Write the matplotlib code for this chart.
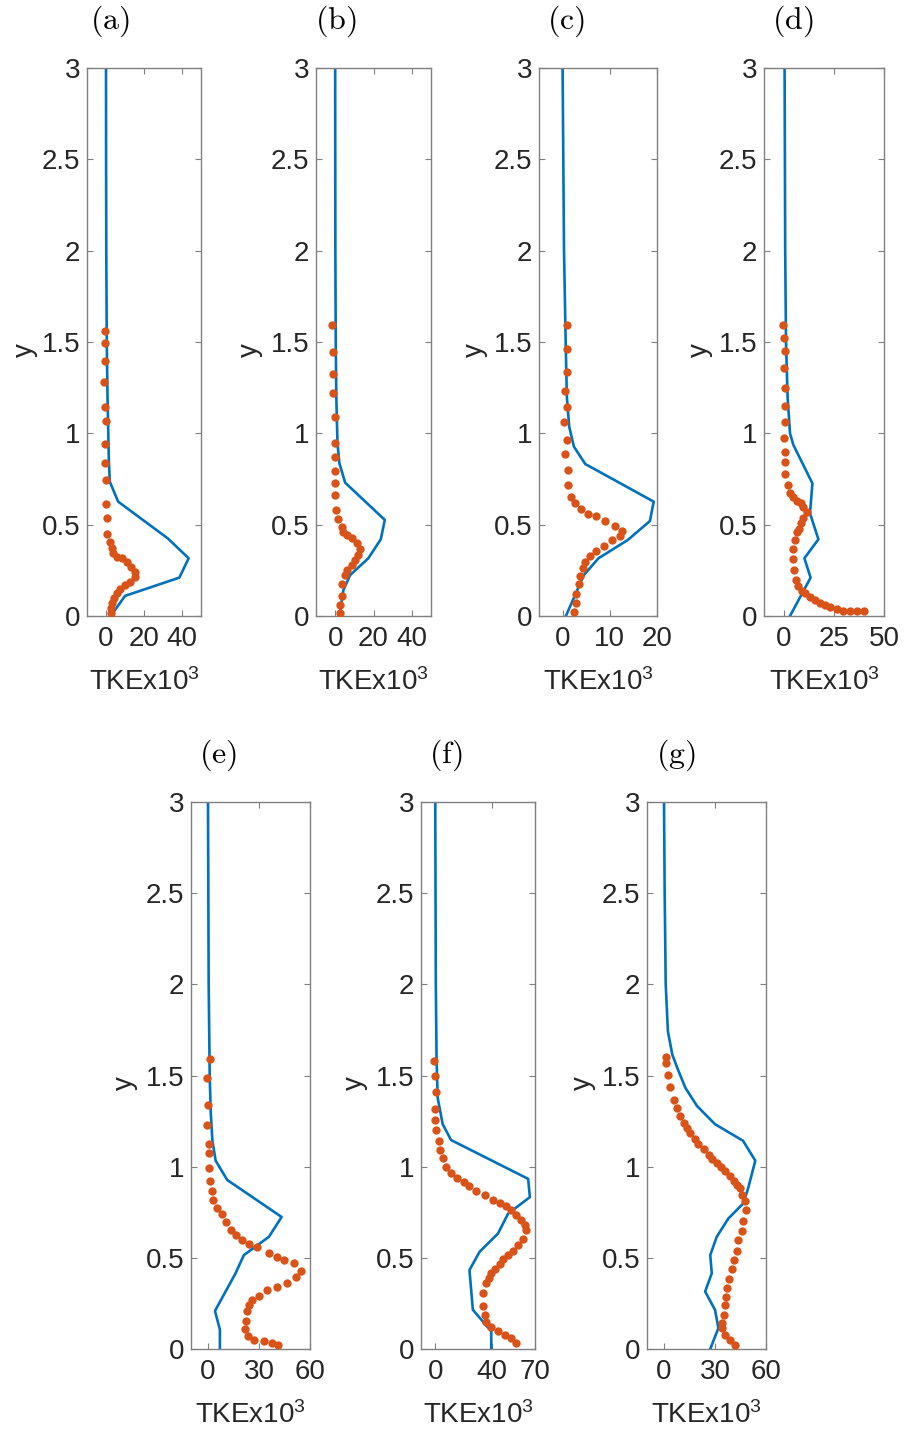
import matplotlib
matplotlib.use("Agg")
import matplotlib.pyplot as plt

plt.rcParams['font.family'] = ['Liberation Sans', 'DejaVu Sans']
plt.rcParams['mathtext.default'] = 'regular'

BLUE = '#0072BD'
ORANGE = '#D95319'

# ---- model profiles (solid lines): height y and TKE x 10^3 ----
a_line_y = [0.0, 0.11, 0.21, 0.316, 0.425, 0.626, 0.735, 0.85, 1.0, 1.2, 1.5, 2.0, 2.5, 3.0]
a_line_tke = [2.5, 10, 38.6, 43.5, 32.5, 6.4, 2.0, 1.5, 1.2, 0.8, 0.4, 0.15, 0.05, 0.0]

b_line_y = [0.0, 0.142, 0.224, 0.316, 0.42, 0.526, 0.73, 0.836, 0.945, 1.2, 1.5, 2.0, 3.0]
b_line_tke = [2.2, 4.3, 7.8, 17.3, 23.8, 25.9, 5.2, 2.2, 1.2, 0.6, 0.3, 0.1, 0.0]

c_line_y = [0.0, 0.124, 0.224, 0.316, 0.416, 0.52, 0.626, 0.832, 0.927, 1.036, 1.2, 1.5, 2.0, 3.0]
c_line_tke = [0.7, 2.8, 4.5, 7.6, 13.8, 18.5, 19.3, 4.8, 2.4, 1.4, 0.9, 0.65, 0.3, 0.0]

d_line_y = [0.0, 0.21, 0.316, 0.42, 0.562, 0.726, 0.936, 1.0, 1.2, 1.5, 2.0, 3.0]
d_line_tke = [3.0, 13.3, 10.2, 17.2, 13.0, 14.2, 4.7, 3.0, 1.8, 1.0, 0.6, 0.3]

e_line_y = [0.0, 0.106, 0.209, 0.415, 0.515, 0.615, 0.724, 0.927, 1.033, 1.142, 1.3, 1.5, 2.0, 3.0]
e_line_tke = [7.0, 7.0, 4.1, 16.2, 21.1, 35.8, 43.3, 11.3, 4.5, 2.6, 1.6, 1.0, 0.4, 0.0]

f_line_y = [0.0, 0.097, 0.215, 0.433, 0.533, 0.633, 0.742, 0.833, 0.933, 1.146, 1.233, 1.378, 1.6, 2.0, 3.0]
f_line_tke = [39.3, 39.3, 26.4, 24.0, 31.1, 44.0, 51.1, 66.4, 65.2, 11.1, 5.2, 1.7, 0.9, 0.4, 0.0]

g_line_y = [0.0, 0.115, 0.215, 0.315, 0.415, 0.515, 0.615, 0.715, 0.797, 0.878, 1.033, 1.142,
            1.233, 1.333, 1.432, 1.542, 1.614, 1.742, 2.0, 2.5, 3.0]
g_line_tke = [27.2, 32.0, 30.0, 24.2, 28.1, 27.2, 31.0, 37.8, 46.5, 49.4, 53.7, 46.5,
              30.0, 19.4, 12.6, 7.8, 4.9, 2.3, 1.0, 0.4, 0.0]

# ---- measured profiles (dots) ----
a_dots_y = [1.562, 1.493, 1.398, 1.281, 1.146, 1.066, 0.942, 0.836, 0.745, 0.613, 0.536, 0.447,
            0.407, 0.371, 0.343, 0.325, 0.316, 0.297, 0.270, 0.243, 0.215, 0.188, 0.170, 0.146,
            0.124, 0.097, 0.069, 0.042, 0.015]
a_dots_tke = [-0.5, -0.5, -0.5, -1.0, -0.7, 0.0, -0.5, -0.7, 0.0, 0.0, 0.7, 0.7,
              2.1, 3.0, 3.8, 5.6, 8.2, 10.8, 13.4, 15.1, 15.1, 12.5, 9.9, 7.3,
              5.6, 4.3, 3.3, 2.4, 2.6]

b_dots_y = [1.593, 1.447, 1.325, 1.223, 1.091, 0.949, 0.869, 0.796, 0.726, 0.661, 0.580, 0.529,
            0.489, 0.462, 0.443, 0.425, 0.398, 0.365, 0.334, 0.307, 0.279, 0.252, 0.224, 0.173,
            0.111, 0.060, 0.015]
b_dots_tke = [-1.4, -0.9, -0.9, -0.9, -0.3, -0.3, -0.3, 0.0, 0.0, 0.0, 0.5, 1.7,
              3.5, 4.3, 6.0, 8.6, 11.2, 12.9, 12.1, 10.4, 8.6, 6.0, 5.2, 3.8,
              3.5, 2.6, 2.6]

c_dots_y = [1.593, 1.460, 1.338, 1.234, 1.146, 1.064, 0.964, 0.887, 0.800, 0.717, 0.650, 0.617,
            0.584, 0.559, 0.548, 0.520, 0.493, 0.466, 0.440, 0.416, 0.385, 0.358, 0.329, 0.297,
            0.265, 0.219, 0.173, 0.120, 0.069, 0.020]
c_dots_tke = [0.83, 0.83, 0.83, 0.55, 0.83, 0.35, 0.83, 0.55, 1.17, 1.24, 1.86, 2.6,
              4.0, 5.4, 7.1, 9.0, 11.0, 12.6, 12.1, 10.5, 8.8, 7.1, 5.9, 4.8,
              4.3, 3.6, 3.4, 2.9, 2.9, 2.4]

d_dots_y = [1.593, 1.520, 1.451, 1.356, 1.246, 1.151, 1.060, 0.976, 0.899, 0.841, 0.775, 0.717,
            0.675, 0.650, 0.630, 0.617, 0.595, 0.568, 0.535, 0.507, 0.476, 0.458, 0.416, 0.369,
            0.310, 0.252, 0.197, 0.164, 0.139, 0.124, 0.106, 0.088, 0.073, 0.060, 0.047, 0.036,
            0.029, 0.026, 0.026, 0.026]
d_dots_tke = [-0.3, 0.0, 0.5, 0.0, 0.3, 0.3, 0.5, 0.2, 0.7, 0.7, 0.7, 1.8,
              3.0, 4.7, 6.7, 8.3, 9.7, 11.3, 9.7, 8.5, 7.5, 6.7, 5.5, 4.7,
              4.7, 5.0, 6.0, 7.2, 8.8, 10.5, 13.0, 15.5, 18.0, 20.5, 23.0, 26.3,
              29.7, 33.0, 36.3, 40.2]

e_dots_y = [1.593, 1.487, 1.338, 1.229, 1.127, 1.073, 0.993, 0.924, 0.865, 0.818, 0.775, 0.738,
            0.698, 0.655, 0.624, 0.597, 0.578, 0.557, 0.529, 0.506, 0.487, 0.469, 0.429, 0.393,
            0.360, 0.342, 0.321, 0.291, 0.269, 0.242, 0.206, 0.151, 0.110, 0.073, 0.051, 0.042,
            0.033, 0.024]
e_dots_tke = [1.0, -0.4, 0.0, -0.4, 0.6, 0.6, 0.6, 1.2, 2.2, 3.1, 5.5, 8.1,
              10.7, 13.3, 16.3, 20.2, 24.2, 29.0, 35.8, 40.8, 44.7, 50.6, 54.5, 51.5,
              46.7, 40.8, 34.9, 30.0, 26.1, 24.2, 22.7, 22.2, 21.6, 23.6, 27.1, 33.0,
              37.9, 41.2]

f_dots_y = [1.582, 1.496, 1.411, 1.315, 1.255, 1.202, 1.142, 1.091, 1.045, 1.000, 0.964, 0.938,
            0.914, 0.893, 0.869, 0.842, 0.815, 0.800, 0.782, 0.760, 0.737, 0.706, 0.678, 0.651,
            0.606, 0.569, 0.538, 0.515, 0.491, 0.464, 0.437, 0.415, 0.388, 0.360, 0.306, 0.237,
            0.188, 0.146, 0.118, 0.097, 0.079, 0.060, 0.033]
f_dots_tke = [-0.7, 0.0, 0.5, 0.0, 0.0, 0.5, 2.8, 3.5, 5.4, 7.8, 11.3, 15.5,
              20.3, 23.8, 28.9, 34.6, 40.5, 45.2, 49.9, 53.4, 57.0, 60.5, 62.8, 64.0,
              61.7, 58.1, 54.6, 51.1, 47.6, 45.2, 41.6, 39.3, 37.4, 35.8, 33.4, 33.4,
              34.6, 35.8, 39.3, 44.0, 48.7, 52.9, 57.0]

g_dots_y = [1.600, 1.569, 1.505, 1.436, 1.365, 1.323, 1.278, 1.242, 1.211, 1.182, 1.151, 1.127,
            1.096, 1.065, 1.042, 1.018, 0.996, 0.974, 0.951, 0.924, 0.902, 0.884, 0.842, 0.811,
            0.760, 0.702, 0.647, 0.597, 0.538, 0.487, 0.438, 0.382, 0.333, 0.287, 0.242, 0.188,
            0.142, 0.115, 0.079, 0.051, 0.024]
g_dots_tke = [1.4, 1.4, 2.3, 3.5, 5.8, 7.8, 9.3, 12.0, 13.6, 15.5, 18.0, 19.8,
              23.3, 26.2, 28.5, 31.0, 33.5, 35.9, 38.8, 41.1, 42.7, 44.6, 46.1, 47.5,
              48.1, 46.5, 45.6, 43.6, 42.7, 41.3, 39.8, 38.4, 36.9, 36.3, 35.9, 35.3,
              34.3, 34.3, 35.9, 38.8, 41.7]

panel_labels = ['(a)', '(b)', '(c)', '(d)', '(e)', '(f)', '(g)']
x_limits = [(-10, 50), (-10, 50), (-5, 20), (-10, 50), (-10, 60), (-10, 70), (-10, 60)]
x_ticks = [[0, 20, 40], [0, 20, 40], [0, 10, 20], [0, 25, 50], [0, 30, 60], [0, 40, 70], [0, 30, 60]]
y_ticks = [0, 0.5, 1, 1.5, 2, 2.5, 3]
y_tick_labels = ['0', '0.5', '1', '1.5', '2', '2.5', '3']

lines = [(a_line_y, a_line_tke), (b_line_y, b_line_tke), (c_line_y, c_line_tke),
         (d_line_y, d_line_tke), (e_line_y, e_line_tke), (f_line_y, f_line_tke),
         (g_line_y, g_line_tke)]
dots = [(a_dots_y, a_dots_tke), (b_dots_y, b_dots_tke), (c_dots_y, c_dots_tke),
        (d_dots_y, d_dots_tke), (e_dots_y, e_dots_tke), (f_dots_y, f_dots_tke),
        (g_dots_y, g_dots_tke)]

W, H = 905, 1436
fig = plt.figure(figsize=(W / 100, H / 100), dpi=100)

# axes boxes in pixels: left, right, top, bottom
boxes = [(87, 201, 68, 616), (316, 431, 68, 616), (539, 657, 68, 616), (764, 884, 68, 616),
         (191, 310, 802, 1349), (421, 535, 802, 1349), (647, 766, 802, 1349)]
title_x = [110, 336, 566, 793, 218, 446, 676]
ylabel_x = [25, 250, 475, 700, 125, 355, 583]

SPINE = '#808080'
TXT = '#262626'
FS = 20

for i in range(7):
    l, r, t, b = boxes[i]
    w, h = r - l, b - t
    ax = fig.add_axes([l / W, 1 - b / H, w / W, h / H])
    ly, lx = lines[i]
    dy, dx = dots[i]
    ax.plot(lx, ly, color=BLUE, lw=1.9, zorder=2)
    ax.plot(dx, dy, 'o', color=ORANGE, ms=6.0, mec='none', zorder=3)
    ax.set_xlim(*x_limits[i])
    ax.set_ylim(0, 3)
    ax.set_xticks(x_ticks[i])
    ax.set_xticklabels([str(v) for v in x_ticks[i]])
    ax.set_yticks(y_ticks)
    ax.set_yticklabels(y_tick_labels)
    for s in ax.spines.values():
        s.set_color(SPINE)
        s.set_linewidth(1.0)
    ax.tick_params(direction='in', top=True, right=True, length=4.5, width=0.8,
                   color=SPINE, labelcolor=TXT, labelsize=FS)
    ax.tick_params(axis='x', pad=7.5)
    ax.tick_params(axis='y', pad=5)
    # axis labels
    ax.text((ylabel_x[i] - l) / w, 0.5 - 8 / h, 'y', rotation=90, transform=ax.transAxes,
            ha='center', va='center', fontsize=FS, color=TXT)
    ax.text(0.5, -74 / h, r'TKEx10$^3$', transform=ax.transAxes, ha='center',
            va='baseline', fontsize=FS, color=TXT)
    # panel tag
    fig.text(title_x[i] / W, 1 - (t - 47) / H, r'$\mathrm{' + panel_labels[i] + '}$',
             ha='center', va='center', fontsize=23, color='black', math_fontfamily='cm')

fig.savefig('out.png', dpi=100, facecolor='white')
